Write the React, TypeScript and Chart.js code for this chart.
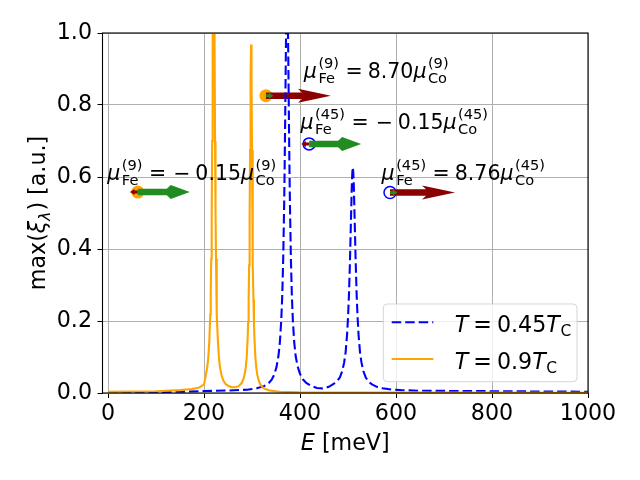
import React, { useEffect, useRef } from 'react';
import { Chart, registerables } from 'chart.js';

Chart.register(...registerables);

// ---------- data ----------
const energyOrange = [0, 50, 100, 150, 175, 190, 200, 204, 207, 209, 211, 213, 214, 215, 216, 217, 218, 219, 220, 221, 222, 223, 224, 225, 226, 227, 229, 231, 233, 236, 240, 245, 250, 258, 265, 272, 278, 282, 285, 287, 289, 291, 292, 293, 294, 295, 296, 297, 298, 299, 300, 301, 302, 303, 304, 305, 307, 309, 311, 314, 318, 323, 328, 338, 358, 398, 500, 700, 1000];
const xiOrange = [0.003, 0.004, 0.005, 0.008, 0.011, 0.015, 0.024, 0.051, 0.074, 0.10, 0.143, 0.218, 0.283, 0.373, 0.50, 0.70, 0.97, 1.26, 1.40, 1.26, 0.97, 0.70, 0.50, 0.373, 0.283, 0.218, 0.143, 0.10, 0.074, 0.052, 0.035, 0.025, 0.020, 0.016, 0.016, 0.019, 0.027, 0.038, 0.054, 0.072, 0.10, 0.156, 0.198, 0.26, 0.355, 0.485, 0.675, 0.875, 0.968, 0.875, 0.675, 0.485, 0.355, 0.26, 0.198, 0.154, 0.099, 0.069, 0.051, 0.034, 0.022, 0.015, 0.011, 0.0065, 0.0035, 0.0018, 0.0012, 0.001, 0.0008];

const energyBlue = [0, 50, 100, 150, 200, 250, 290, 310, 325, 335, 341, 346, 351, 355, 358, 361, 363, 365, 367, 368, 369, 370, 371, 372, 373, 374, 375, 376, 377, 378, 379, 381, 383, 385, 388, 391, 395, 400, 406, 413, 423, 435, 447, 460, 470, 477, 483, 488, 492, 495, 498, 500, 502, 504, 506, 508, 509, 510, 511, 512, 514, 516, 518, 520, 522, 525, 528, 532, 537, 543, 550, 560, 572, 590, 610, 650, 700, 800, 900, 1000];
const xiBlue = [0.001, 0.0015, 0.0025, 0.0035, 0.0055, 0.007, 0.009, 0.013, 0.019, 0.028, 0.037, 0.050, 0.072, 0.102, 0.140, 0.204, 0.271, 0.374, 0.526, 0.629, 0.749, 0.879, 1.004, 1.098, 1.134, 1.098, 1.004, 0.879, 0.749, 0.629, 0.526, 0.374, 0.271, 0.204, 0.140, 0.102, 0.074, 0.053, 0.038, 0.028, 0.020, 0.014, 0.013, 0.017, 0.025, 0.033, 0.043, 0.061, 0.085, 0.113, 0.161, 0.209, 0.273, 0.363, 0.473, 0.579, 0.612, 0.627, 0.612, 0.579, 0.473, 0.363, 0.273, 0.209, 0.161, 0.113, 0.085, 0.061, 0.043, 0.031, 0.024, 0.017, 0.013, 0.0096, 0.008, 0.0062, 0.0058, 0.005, 0.0042, 0.0035];

const xTicks = [0, 200, 400, 600, 800, 1000];
const yTicks = [0, 0.2, 0.4, 0.6, 0.8, 1.0];

const legendTemps = ['0.45', '0.9'];

const markerEnergy = [62, 329, 419, 587.5];
const markerXi = [0.558, 0.826, 0.692, 0.557];
const markerTemp = ['0.9', '0.9', '0.45', '0.45'];
const momentRatio = [-0.15, 8.70, -0.15, 8.76];
const siteLabel = ['(9)', '(9)', '(45)', '(45)'];
const labelEnergy = [-1.5, 408, 401, 570];
const labelXi = [0.592, 0.875, 0.733, 0.592];

// ---------- styles ----------
const FAM = '"DejaVu Sans"';
const BLUE = '#0000ff';
const ORANGE = '#ffa500';
const GREEN = '#228b22';
const DARKRED = '#8b0000';
const LW = 2.1;
const DASH = [9.5, 4];

type Item = {
  t?: string; it?: boolean; sz?: number; gap?: number;
  sub?: string; sup?: string; subIt?: boolean; subDy?: number; supDy?: number;
};

const fnt = (sz: number, it?: boolean) => `${it ? 'italic ' : ''}${sz}px ${FAM}`;

function itemWidth(ctx: CanvasRenderingContext2D, it: Item): number {
  if (it.gap !== undefined) return it.gap;
  if (it.sub !== undefined || it.sup !== undefined) {
    let w = 0;
    if (it.sub) { ctx.font = fnt(it.sz!, it.subIt); w = Math.max(w, ctx.measureText(it.sub).width); }
    if (it.sup) { ctx.font = fnt(it.sz!, false); w = Math.max(w, ctx.measureText(it.sup).width); }
    return w;
  }
  ctx.font = fnt(it.sz!, it.it);
  return ctx.measureText(it.t!).width;
}

function drawMath(ctx: CanvasRenderingContext2D, items: Item[], x: number, y: number, align: 'left' | 'center', color = '#000') {
  const total = items.reduce((s, it) => s + itemWidth(ctx, it), 0);
  let cx = align === 'center' ? x - total / 2 : x;
  ctx.textAlign = 'left';
  ctx.textBaseline = 'alphabetic';
  ctx.fillStyle = color;
  for (const it of items) {
    const w = itemWidth(ctx, it);
    if (it.gap !== undefined) { cx += w; continue; }
    if (it.sub !== undefined || it.sup !== undefined) {
      if (it.sub) { ctx.font = fnt(it.sz!, it.subIt); ctx.fillText(it.sub, cx, y + (it.subDy || 0)); }
      if (it.sup) { ctx.font = fnt(it.sz!, false); ctx.fillText(it.sup, cx, y - (it.supDy || 0)); }
    } else {
      ctx.font = fnt(it.sz!, it.it);
      ctx.fillText(it.t!, cx, y);
    }
    cx += w;
  }
}

function momentItems(ratio: number, site: string): Item[] {
  const F = 20.5, S = 14.6;
  const items: Item[] = [
    { t: 'μ', it: true, sz: F }, { gap: 1.5 },
    { sub: 'Fe', sup: site, sz: S, subDy: 5, supDy: 10 }, { gap: 6.5 },
    { t: '=', sz: F }, { gap: 5 },
  ];
  if (ratio < 0) {
    items.push({ gap: 2 }, { t: '−', sz: F }, { gap: 5 }, { t: Math.abs(ratio).toFixed(2), sz: F });
  } else {
    items.push({ t: ratio.toFixed(2), sz: F });
  }
  items.push({ t: 'μ', it: true, sz: F }, { gap: 1.5 }, { sub: 'Co', sup: site, sz: S, subDy: 5, supDy: 10 });
  return items;
}

function drawArrow(ctx: CanvasRenderingContext2D, x0: number, y0: number, len: number, color: string, longHead: 'fe' | 'co') {
  const s = Math.sign(len) || 1;
  const L = Math.abs(len);
  let sw: number, hw: number, junction: number, corner: number;
  if (L >= 30) {
    if (longHead === 'co') { sw = 6.5; hw = 14; junction = 23; corner = 19; }
    else { sw = 6.5; hw = 14; junction = 29; corner = 33; }
  } else {
    sw = 3; hw = 6; junction = Math.min(4.5, L * 0.6); corner = junction;
  }
  const pts = [
    [0, -sw / 2], [L - junction, -sw / 2], [L - corner, -hw / 2], [L, 0],
    [L - corner, hw / 2], [L - junction, sw / 2], [0, sw / 2],
  ];
  ctx.beginPath();
  pts.forEach(([px, py], i) => {
    const X = x0 + s * px, Y = y0 + py;
    if (i === 0) ctx.moveTo(X, Y); else ctx.lineTo(X, Y);
  });
  ctx.closePath();
  ctx.fillStyle = color;
  ctx.fill();
}

const annotPlugin = {
  id: 'annot',
  beforeDatasetsDraw(chart: any) {
    const { ctx, scales } = chart;
    const xs = scales.x, ys = scales.y;
    ctx.save();
    for (let i = 0; i < markerEnergy.length; i++) {
      const px = xs.getPixelForValue(markerEnergy[i]);
      const py = ys.getPixelForValue(markerXi[i]);
      ctx.beginPath();
      if (markerTemp[i] === '0.9') {
        ctx.arc(px, py, 6.5, 0, Math.PI * 2);
        ctx.fillStyle = ORANGE;
        ctx.fill();
      } else {
        ctx.arc(px, py, 6, 0, Math.PI * 2);
        ctx.strokeStyle = BLUE;
        ctx.lineWidth = 1.5;
        ctx.stroke();
      }
      const r = momentRatio[i];
      let feLen: number, coLen: number;
      if (Math.abs(r) < 1) { coLen = 52; feLen = r * coLen; }
      else { feLen = 65; coLen = feLen / r; }
      drawArrow(ctx, px, py, feLen, DARKRED, 'fe');
      drawArrow(ctx, px, py, coLen, GREEN, 'co');
    }
    ctx.restore();
  },
  afterDatasetsDraw(chart: any) {
    const { ctx, chartArea, scales } = chart;
    const xs = scales.x, ys = scales.y;
    ctx.save();
    // frame
    ctx.strokeStyle = '#000';
    ctx.lineWidth = 1.1;
    ctx.strokeRect(chartArea.left, chartArea.top, chartArea.right - chartArea.left, chartArea.bottom - chartArea.top);

    // annotation labels
    for (let i = 0; i < labelEnergy.length; i++) {
      drawMath(ctx, momentItems(momentRatio[i], siteLabel[i]), xs.getPixelForValue(labelEnergy[i]), ys.getPixelForValue(labelXi[i]), 'left');
    }

    // legend
    const lw = 193.7, lh = 77.7;
    const lx = chartArea.right - 11 - lw, ly = chartArea.bottom - 11.3 - lh;
    ctx.beginPath();
    ctx.roundRect(lx, ly, lw, lh, 4);
    ctx.fillStyle = 'rgba(255,255,255,0.8)';
    ctx.fill();
    ctx.strokeStyle = 'rgba(204,204,204,0.8)';
    ctx.lineWidth = 1;
    ctx.stroke();
    const rows = [
      { color: BLUE, dash: DASH, lineY: ly + 18.3, textY: ly + 28.3 },
      { color: ORANGE, dash: [] as number[], lineY: ly + 55, textY: ly + 65.3 },
    ];
    rows.forEach((row, k) => {
      ctx.beginPath();
      ctx.setLineDash(row.dash);
      ctx.strokeStyle = row.color;
      ctx.lineWidth = LW;
      ctx.moveTo(lx + 8.4, row.lineY);
      ctx.lineTo(lx + 50, row.lineY);
      ctx.stroke();
      ctx.setLineDash([]);
      const F = 22.2;
      drawMath(ctx, [
        { t: 'T', it: true, sz: F }, { gap: 5 }, { t: '=', sz: F }, { gap: 5 },
        { t: legendTemps[k], sz: F }, { t: 'T', it: true, sz: F }, { gap: 0.5 },
        { sub: 'C', sz: 15.5, subDy: 3.5 },
      ], lx + 71.5, row.textY, 'left');
    });

    // axis titles
    const F = 22.2;
    drawMath(ctx, [{ t: 'E', it: true, sz: F }, { t: ' [meV]', sz: F }], (chartArea.left + chartArea.right) / 2, 450, 'center');
    ctx.save();
    ctx.translate(45, (chartArea.top + chartArea.bottom) / 2);
    ctx.rotate(-Math.PI / 2);
    drawMath(ctx, [
      { t: 'max(', sz: F }, { t: 'ξ', it: true, sz: F },
      { sub: 'λ', subIt: true, sz: 15.5, subDy: 4.5 }, { gap: 1 },
      { t: ')', sz: F }, { t: ' [a.u.]', sz: F },
    ], 0, 0, 'center');
    ctx.restore();
    ctx.restore();
  },
};

export default function App() {
  const ref = useRef<HTMLCanvasElement>(null);
  useEffect(() => {
    if (!ref.current) return;
    const chart = new Chart(ref.current, {
      type: 'line',
      data: {
        datasets: [
          {
            label: 'T = 0.45T_C',
            data: energyBlue.map((e, i) => ({ x: e, y: xiBlue[i] })),
            borderColor: BLUE,
            borderDash: DASH,
            borderWidth: LW,
            pointRadius: 0,
            tension: 0,
            order: 2,
          },
          {
            label: 'T = 0.9T_C',
            data: energyOrange.map((e, i) => ({ x: e, y: xiOrange[i] })),
            borderColor: ORANGE,
            borderWidth: LW,
            pointRadius: 0,
            tension: 0,
            order: 1,
          },
        ],
      },
      options: {
        animation: false,
        responsive: false,
        layout: { padding: { top: 33, right: 52, left: 0, bottom: 0 } },
        plugins: { legend: { display: false }, tooltip: { enabled: false } },
        scales: {
          x: {
            type: 'linear',
            min: -11.5,
            max: 1000,
            afterBuildTicks: (s: any) => { s.ticks = xTicks.map((v) => ({ value: v })); },
            afterFit: (s: any) => { s.height = 87; },
            border: { display: false },
            grid: { color: '#b0b0b0', lineWidth: 1, tickColor: '#000', tickLength: 5, drawTicks: true },
            ticks: {
              font: { family: 'DejaVu Sans', size: 22.2 },
              color: '#000',
              padding: 3,
              maxRotation: 0,
              autoSkip: false,
              callback: (v: any) => String(v),
            },
          },
          y: {
            type: 'linear',
            min: 0,
            max: 1,
            afterBuildTicks: (s: any) => { s.ticks = yTicks.map((v) => ({ value: v })); },
            afterFit: (s: any) => { s.width = 102.5; },
            border: { display: false },
            grid: { color: '#b0b0b0', lineWidth: 1, tickColor: '#000', tickLength: 5, drawTicks: true },
            ticks: {
              font: { family: 'DejaVu Sans', size: 22.2 },
              color: '#000',
              padding: 5.5,
              autoSkip: false,
              callback: (v: any) => Number(v).toFixed(1),
            },
          },
        },
      },
      plugins: [annotPlugin],
    } as any);
    return () => chart.destroy();
  }, []);
  return (
    <div style={{ position: 'fixed', left: 0, top: 0, width: 640, height: 480, background: '#fff' }}>
      <canvas ref={ref} width={640} height={480} style={{ display: 'block', width: 640, height: 480 }} />
    </div>
  );
}
